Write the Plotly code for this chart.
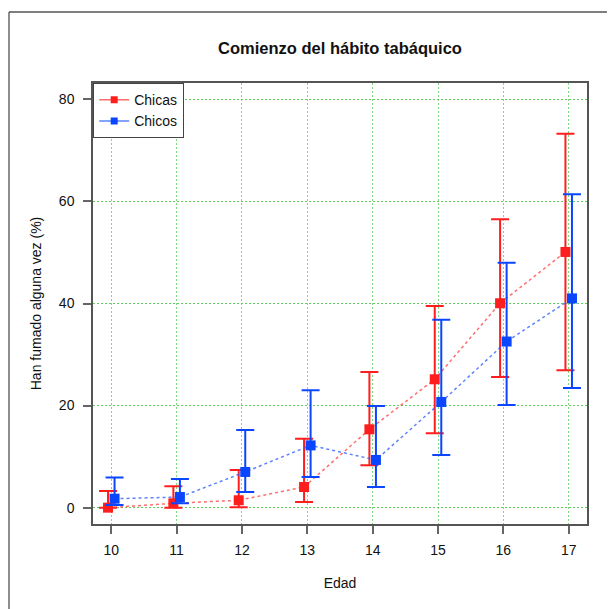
import plotly.graph_objects as go

edad = [10, 11, 12, 13, 14, 15, 16, 17]
offset = 0.05

chicas = [0.0, 0.85, 1.45, 4.05, 15.35, 25.15, 40.05, 50.1]
chicas_lo = [0.0, 0.0, 0.1, 1.1, 8.3, 14.6, 25.6, 26.9]
chicas_hi = [3.25, 4.2, 7.4, 13.5, 26.6, 39.5, 56.5, 73.25]

chicos = [1.76, 2.08, 7.0, 12.2, 9.35, 20.7, 32.55, 41.0]
chicos_lo = [0.5, 0.85, 3.05, 6.0, 4.05, 10.3, 20.1, 23.45]
chicos_hi = [5.9, 5.6, 15.2, 23.0, 19.9, 36.8, 48.0, 61.4]

yticks = [0, 20, 40, 60, 80]

RED = "#FF1E1E"
BLUE = "#0A46FF"
RED_L = "rgba(255,60,60,0.75)"
BLUE_L = "rgba(40,90,255,0.75)"

fig = go.Figure()

def add_series(name, xs_off, vals, lo, hi, col, col_l):
    xs = [x + xs_off for x in edad]
    fig.add_trace(go.Scatter(
        x=xs, y=vals, mode="lines+markers", showlegend=False, name=name,
        line=dict(color=col_l, width=1.5, dash="3px,3px"),
        marker=dict(symbol="square", size=10, color=col),
        error_y=dict(type="data", symmetric=False,
                     array=[h - v for h, v in zip(hi, vals)],
                     arrayminus=[v - l for v, l in zip(vals, lo)],
                     color=col, thickness=2, width=9),
    ))
    fig.add_trace(go.Scatter(
        x=[None], y=[None], mode="lines+markers", name=name,
        line=dict(color=col_l, width=1.5),
        marker=dict(symbol="square", size=7, color=col),
    ))

add_series("Chicas", -offset, chicas, chicas_lo, chicas_hi, RED, RED_L)
add_series("Chicos", offset, chicos, chicos_lo, chicos_hi, BLUE, BLUE_L)

axis_common = dict(
    showline=True, linecolor="#555555", linewidth=1.5, mirror=True,
    ticks="outside", ticklen=8, tickwidth=1.5, tickcolor="#666666",
    showgrid=True, griddash="2px,2px", gridwidth=1,
    zeroline=False, tickfont=dict(size=14, color="#111111"),
)

fig.update_xaxes(range=[9.72, 17.28], tickvals=edad, ticklabelstandoff=4,
                 gridcolor="#7ED87E",
                 title=dict(text="Edad", font=dict(size=14, color="#111111"), standoff=22),
                 **axis_common)
fig.update_yaxes(range=[-3.2, 83.2], tickvals=yticks, ticklabelstandoff=6,
                 gridcolor="#5FD05F",
                 title=dict(text="Han fumado alguna vez (%)", font=dict(size=14, color="#111111"), standoff=14),
                 **axis_common)

# the page body adds an 8px offset; lay the figure out so the photo matches
W, H = 615, 609
L, T = 85, 75
pw, ph = 494, 441
R = W - L - pw
B = H - T - ph
fx = (1 - L) / pw
fy = (H - B - 4) / ph
fig.add_shape(type="line", xref="paper", yref="paper", x0=fx, x1=1.3, y0=fy, y1=fy,
              line=dict(color="#555555", width=1.5))
fig.add_shape(type="line", xref="paper", yref="paper", x0=fx, x1=fx, y0=fy, y1=-0.4,
              line=dict(color="#444444", width=1.2))

fig.update_layout(
    width=W, height=H,
    margin=dict(l=L, r=R, t=T, b=B),
    paper_bgcolor="white", plot_bgcolor="white",
    font=dict(family="Liberation Sans, Arial, sans-serif", color="#111111"),
    title=dict(text="<b>Comienzo del hábito tabáquico</b>", x=(L + pw / 2) / W, xanchor="center",
               y=1 - 40 / H, yanchor="middle", font=dict(size=16.5, color="#111111")),
    legend=dict(x=0, y=1, xanchor="left", yanchor="top", bgcolor="white",
                bordercolor="#444444", borderwidth=1.2, font=dict(size=14, color="#111111"),
                itemwidth=30, tracegroupgap=0),
)

fig.write_html("out.html")
